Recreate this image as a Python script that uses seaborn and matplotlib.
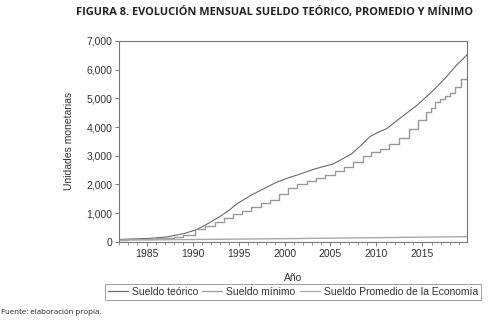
import matplotlib
matplotlib.use("Agg")
import matplotlib.pyplot as plt
import seaborn as sns
import pandas as pd
from matplotlib.ticker import FuncFormatter, MultipleLocator
from matplotlib.lines import Line2D

# ---- data ----
teorico_years = [1982, 1983, 1984, 1985.5, 1987.3, 1989.1, 1990.4, 1991.7, 1992.8, 1993.8,
                 1994.9, 1996.4, 1997.8, 1999.1, 2000.6, 2001.5, 2003.3, 2005.3, 2007.3,
                 2008.4, 2009.3, 2010.2, 2011.1, 2012.5, 2014.4, 2016.2, 2017.6, 2018.7, 2019.9]
teorico = [85, 95, 105, 125, 175, 290, 420, 640, 850, 1060,
           1340, 1630, 1860, 2070, 2250, 2340, 2540, 2715, 3065,
           3380, 3670, 3820, 3940, 4290, 4755, 5280, 5745, 6150, 6530]

minimo_years = [1982, 1983, 1984, 1985, 1986, 1987, 1988, 1989.0, 1990.3, 1991.4, 1992.4,
                1993.4, 1994.4, 1995.4, 1996.4, 1997.4, 1998.4, 1999.4, 2000.4, 2001.4,
                2002.4, 2003.4, 2004.4, 2005.5, 2006.5, 2007.5, 2008.5, 2009.4, 2010.4,
                2011.4, 2012.4, 2013.5, 2014.5, 2015.4, 2015.9, 2016.4, 2016.9, 2017.5,
                2018.0, 2018.5, 2019.2, 2019.9]
minimo = [80, 90, 100, 110, 130, 150, 170, 245, 440, 560, 675,
          830, 970, 1060, 1200, 1340, 1470, 1660, 1860, 2030,
          2130, 2220, 2340, 2480, 2620, 2770, 2980, 3120, 3240,
          3415, 3625, 3940, 4230, 4520, 4670, 4870, 4990, 5070,
          5200, 5400, 5660, 5660]

promedio_years = [1982, 1990, 2000, 2010, 2019.9]
promedio = [60, 80, 110, 145, 180]

series_labels = ["Sueldo teórico", "Sueldo mínimo", "Sueldo Promedio de la Economía"]
title = "FIGURA 8. EVOLUCIÓN MENSUAL SUELDO TEÓRICO, PROMEDIO Y MÍNIMO"
source = "Fuente: elaboración propia."

# ---- style ----
sns.set_theme(style="white")
plt.rcParams["font.family"] = ["Liberation Sans", "DejaVu Sans"]

fig = plt.figure(figsize=(4.9, 3.22), dpi=100)
ax = fig.add_axes([0.243, 0.249, 0.711, 0.624])

c_teo, c_min, c_pro = "#6a6a6a", "#9a9a9a", "#a9a9a9"

sns.lineplot(x=teorico_years, y=teorico, ax=ax, color=c_teo, lw=0.8, legend=False)
sns.lineplot(x=minimo_years, y=minimo, ax=ax, color=c_min, lw=1.0,
             drawstyle="steps-post", legend=False)
sns.lineplot(x=promedio_years, y=promedio, ax=ax, color=c_pro, lw=1.0, legend=False)

ax.set_xlim(1982, 2019.9)
ax.set_ylim(0, 7000)
ax.xaxis.set_major_locator(MultipleLocator(5))
ax.xaxis.set_minor_locator(MultipleLocator(1))
ax.yaxis.set_major_locator(MultipleLocator(1000))
ax.yaxis.set_major_formatter(FuncFormatter(lambda v, p: f"{int(v):,}"))
ax.xaxis.set_major_formatter(FuncFormatter(lambda v, p: f"{int(v)}"))

ax.tick_params(axis="both", which="major", direction="out", length=3, width=0.6,
               color="#666666", labelsize=7.5, labelcolor="#333333", pad=2,
               bottom=True, left=True)
ax.tick_params(axis="x", which="minor", direction="out", length=2, width=0.5,
               color="#666666", bottom=True)
for s in ax.spines.values():
    s.set_color("#777777")
    s.set_linewidth(0.8)

ax.set_ylabel("Unidades monetarias", fontsize=7.5, color="#333333", labelpad=9)
ax.set_xlabel("Año", fontsize=7.5, color="#333333", labelpad=10)

handles = [Line2D([], [], color=c, lw=0.9) for c in (c_teo, c_min, c_pro)]
leg = fig.legend(handles, series_labels, loc="center", bbox_to_anchor=(0.598, 0.093),
                 ncol=3, frameon=True, fancybox=False, edgecolor="#888888",
                 fontsize=7.5, handlelength=1.9, handletextpad=0.4,
                 columnspacing=0.4, borderpad=0.25, borderaxespad=0)
leg.get_frame().set_linewidth(0.7)
for t in leg.get_texts():
    t.set_color("#333333")

fig.text(0.561, 0.962, title, ha="center", va="center", fontsize=7.9,
         fontweight="bold", family=["Open Sans", "DejaVu Sans"], color="#222222")
fig.text(0.003, 0.031, source, ha="left", va="center", fontsize=5.7,
         family=["Open Sans", "DejaVu Sans"], color="#222222")

fig.savefig("out.png", dpi=100, facecolor="white")
